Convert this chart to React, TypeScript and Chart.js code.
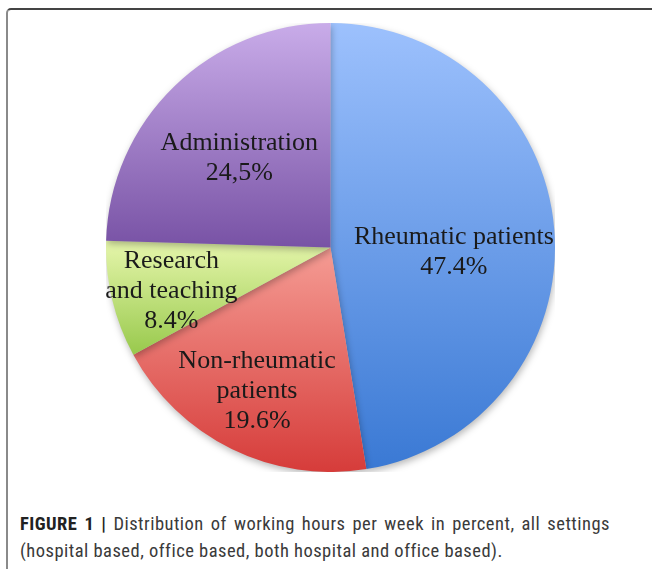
import React, { useEffect, useRef } from "react";
import { Chart, registerables } from "chart.js";

Chart.register(...registerables);

const categories = ["Rheumatic patients", "Non-rheumatic patients", "Research and teaching", "Administration"];
const values = [47.4, 19.6, 8.4, 24.5];
const labelLines = [
  ["Rheumatic patients", "47.4%"],
  ["Non-rheumatic", "patients", "19.6%"],
  ["Research", "and teaching", "8.4%"],
  ["Administration", "24,5%"],
];
const gradientTop = ["#9dc1fd", "#f59c94", "#e6f6ac", "#c9ace9"];
const gradientBottom = ["#3a79d4", "#d63c3a", "#98c94c", "#7852a5"];
const labelRadius = [0.55, 0.72, 0.735, 0.57];
const labelAngleOffsetDeg = [6.8, 0.9, -1.9, -1.3];

function sliceGradient(chart: any, index: number) {
  const area = chart.chartArea;
  if (!area) return gradientTop[index];
  const cx = (area.left + area.right) / 2;
  const cy = (area.top + area.bottom) / 2;
  const r = Math.min(area.right - area.left, area.bottom - area.top) / 2;
  const total = values.reduce((a, b) => a + b, 0);
  let cum = 0;
  for (let i = 0; i < index; i++) cum += values[i];
  const a0 = -Math.PI / 2 + (cum / total) * Math.PI * 2;
  const a1 = a0 + (values[index] / total) * Math.PI * 2;
  let minY = cy, maxY = cy;
  for (let k = 0; k <= 100; k++) {
    const a = a0 + ((a1 - a0) * k) / 100;
    const y = cy + r * Math.sin(a);
    minY = Math.min(minY, y);
    maxY = Math.max(maxY, y);
  }
  const g = chart.ctx.createLinearGradient(0, minY, 0, maxY);
  g.addColorStop(0, gradientTop[index]);
  g.addColorStop(1, gradientBottom[index]);
  return g;
}

const shadowPlugin = {
  id: "pieShadow",
  beforeDatasetsDraw(chart: any) {
    const ctx = chart.ctx;
    ctx.save();
    ctx.shadowColor = "rgba(0,0,0,0.28)";
    ctx.shadowBlur = 7;
    ctx.shadowOffsetX = 1;
    ctx.shadowOffsetY = 3;
  },
  afterDatasetsDraw(chart: any) {
    chart.ctx.restore();
  },
};

const labelPlugin = {
  id: "sliceLabels",
  afterDatasetsDraw(chart: any) {
    const ctx = chart.ctx;
    const meta = chart.getDatasetMeta(0);
    ctx.save();
    ctx.font = "26px 'Liberation Serif', 'Times New Roman', serif";
    ctx.fillStyle = "#1a1a1a";
    ctx.textAlign = "center";
    ctx.textBaseline = "middle";
    meta.data.forEach((arc: any, i: number) => {
      const mid = (arc.startAngle + arc.endAngle) / 2 + (labelAngleOffsetDeg[i] * Math.PI) / 180;
      const rr = arc.outerRadius * labelRadius[i];
      const x = arc.x + Math.cos(mid) * rr;
      const y = arc.y + Math.sin(mid) * rr;
      const lines = labelLines[i];
      const lh = 30;
      lines.forEach((t, k) => {
        ctx.fillText(t, x, y + (k - (lines.length - 1) / 2) * lh);
      });
    });
    ctx.restore();
  },
};

function PieChart() {
  const ref = useRef<HTMLCanvasElement | null>(null);
  useEffect(() => {
    if (!ref.current) return;
    const chart = new Chart(ref.current, {
      type: "pie",
      data: {
        labels: categories,
        datasets: [
          {
            data: values,
            backgroundColor: (c: any) => sliceGradient(c.chart, c.dataIndex),
            borderWidth: 0,
          },
        ],
      },
      options: {
        animation: false,
        responsive: true,
        maintainAspectRatio: false,
        layout: { padding: 0 },
        plugins: { legend: { display: false }, tooltip: { enabled: false } },
      },
      plugins: [shadowPlugin, labelPlugin],
    });
    return () => chart.destroy();
  }, []);
  return <canvas ref={ref} />;
}

export default function App() {
  return (
    <div style={{ position: "absolute", left: 0, top: 0, width: 652, height: 569, overflow: "hidden", background: "#fff" }}>
      <div
        style={{
          position: "absolute",
          left: 6,
          top: 8,
          width: 700,
          height: 620,
          borderTop: "2px solid #444",
          borderLeft: "2px solid #8a8a8a",
          borderTopLeftRadius: 5,
          boxSizing: "border-box",
        }}
      />
      <div style={{ position: "absolute", left: 106, top: 23, width: 449, height: 449 }}>
        <PieChart />
      </div>
      <div
        style={{
          position: "absolute",
          left: 20,
          top: 511,
          width: 590,
          fontFamily: "'Roboto Condensed', 'Liberation Sans Narrow', 'Liberation Sans', Arial, sans-serif",
          fontSize: 18.5,
          letterSpacing: "0.48px",
          lineHeight: "27px",
          color: "#3a3a3a",
          whiteSpace: "nowrap",
        }}
      >
        <div style={{ textAlign: "justify", textAlignLast: "justify" as any, whiteSpace: "normal" }}>
          <span style={{ fontWeight: "bold", color: "#222" }}>FIGURE 1 |</span> Distribution of working hours per week in percent, all settings
        </div>
        <div>(hospital based, office based, both hospital and office based).</div>
      </div>
    </div>
  );
}
